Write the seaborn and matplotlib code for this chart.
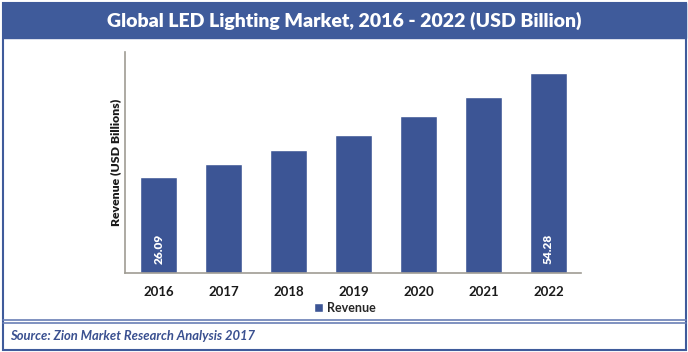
import pandas as pd
import matplotlib.pyplot as plt
import seaborn as sns
from matplotlib.patches import Rectangle
from matplotlib.lines import Line2D

# Dati del grafico
anni = ["2016", "2017", "2018", "2019", "2020", "2021", "2022"]
ricavi = [26.09, 29.5, 33.3, 37.5, 42.5, 47.9, 54.28]
etichette = ["26.09", "", "", "", "", "", "54.28"]

df = pd.DataFrame({"Anno": anni, "Revenue": ricavi})

sns.set_style("white")
plt.rcParams["font.family"] = ["Lato", "DejaVu Sans"]

blu = "#3c5595"
blu_titolo = "#3f5b9b"

fig = plt.figure(figsize=(6.88, 3.52), dpi=100)
ax = fig.add_axes([125 / 688, 79 / 352, 456 / 688, 221 / 352])

sns.barplot(data=df, x="Anno", y="Revenue", color=blu, width=0.57,
            saturation=1, ax=ax, label="Revenue")

# Etichette valori (solo primo e ultimo)
for i, (val, lab) in enumerate(zip(ricavi, etichette)):
    if lab:
        ax.text(i, 2.5, lab, rotation=90, ha="center", va="bottom",
                color="white", fontsize=8.5, fontweight="heavy")

ax.set_ylim(0, 60)
ax.set_xlim(-0.52, 6.5)
ax.set_yticks([])
ax.set_xlabel("")
ax.set_ylabel("Revenue (USD Billions)", fontsize=8.8, fontweight="heavy",
              color="#1a1a1a", labelpad=3)
ax.tick_params(axis="x", length=0, labelsize=9.5, pad=9, colors="#1a1a1a")
for t in ax.get_xticklabels():
    t.set_fontweight("bold")
for lato in ["top", "right"]:
    ax.spines[lato].set_visible(False)
for lato in ["left", "bottom"]:
    ax.spines[lato].set_color("#a09c94")
    ax.spines[lato].set_linewidth(1.2)

ax.legend(loc="center", bbox_to_anchor=(345 / 688, 44 / 352),
          bbox_transform=fig.transFigure, frameon=False,
          handlelength=0.7, handleheight=0.7, handletextpad=0.3,
          borderpad=0.1, prop={"weight": "bold", "size": 9})

# Cornice, banda del titolo e linea della fonte
fig.add_artist(Rectangle((3 / 688, 314 / 352), 683 / 688, 35 / 352,
                         transform=fig.transFigure, color=blu_titolo, zorder=0))
fig.add_artist(Rectangle((3 / 688, 2 / 352), 683 / 688, 347 / 352,
                         transform=fig.transFigure, fill=False,
                         edgecolor=blu_titolo, linewidth=1.5))
for y in [32, 29]:
    fig.add_artist(Line2D([3 / 688, 686 / 688], [y / 352, y / 352],
                          transform=fig.transFigure, color="#6a7fb5", linewidth=1.2))

fig.text(0.5, 331 / 352, "Global LED Lighting Market, 2016 - 2022 (USD Billion)",
         ha="center", va="center", color="white", fontsize=14, fontweight="heavy")
fig.text(10 / 688, 16 / 352, "Source: Zion Market Research Analysis 2017",
         ha="left", va="center", color="#3a5090", fontsize=9.4, style="italic",
         fontweight="bold")

plt.savefig("out.png", dpi=100)
plt.close()
